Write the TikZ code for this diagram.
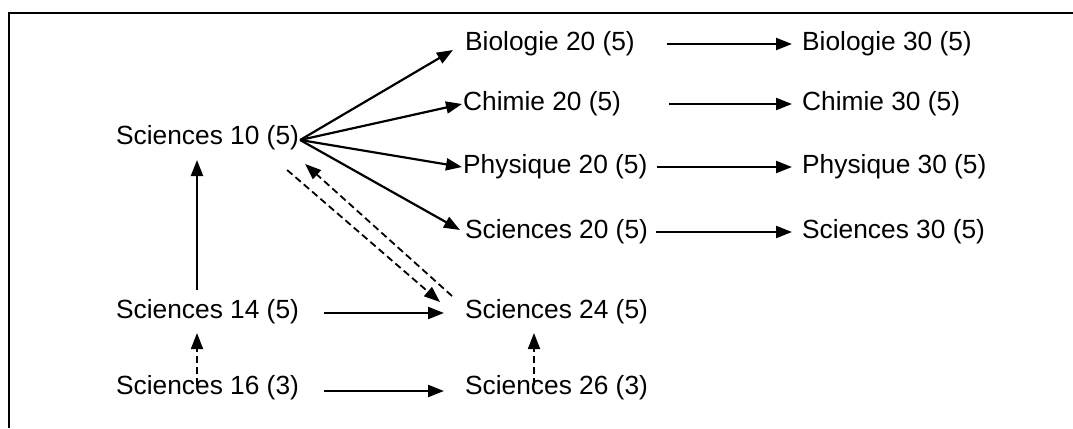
\documentclass[tikz,border=0pt]{standalone}
\usepackage{fontspec}
\setmainfont{Liberation Sans}
\usetikzlibrary{arrows.meta,calc}
\begin{document}
\begin{tikzpicture}[x=1bp,y=-1bp,
  lbl/.style={anchor=west,inner sep=0pt,font=\fontsize{26.3bp}{30bp}\selectfont},
  arr/.style={line width=2.2bp,-{Triangle[length=16bp,width=12bp]}},
  darr/.style={line width=1.8bp,dash pattern=on 7bp off 4bp,-{Triangle[length=16bp,width=12bp]}}]
\useasboundingbox (0,0) rectangle (1073,428);
\draw[line width=2.2bp] (9,428) -- (9,13) -- (1073,13);
\node[lbl] (s10) at (116,138) {Sciences 10 (5)};
\node[lbl] (b20) at (465,44) {Biologie 20 (5)};
\node[lbl] (b30) at (802,44) {Biologie 30 (5)};
\node[lbl] (c20) at (463,104) {Chimie 20 (5)};
\node[lbl] (c30) at (802,104) {Chimie 30 (5)};
\node[lbl] (p20) at (463,167) {Physique 20 (5)};
\node[lbl] (p30) at (802,167) {Physique 30 (5)};
\node[lbl] (s20) at (465,232) {Sciences 20 (5)};
\node[lbl] (s30) at (802,232) {Sciences 30 (5)};
\node[lbl] (s14) at (116,312) {Sciences 14 (5)};
\node[lbl] (s24) at (465,312) {Sciences 24 (5)};
\node[lbl] (s16) at (116,388) {Sciences 16 (3)};
\node[lbl] (s26) at (465,388) {Sciences 26 (3)};
% from Sciences 10
\draw[arr] ($(s10.east)+(1,2)$) -- ($(b20.west)+(-12,6)$);
\draw[arr] ($(s10.east)+(1,2)$) -- ($(c20.west)+(-1,0)$);
\draw[arr] ($(s10.east)+(1,2)$) -- ($(p20.west)+(-1,0)$);
\draw[arr] ($(s10.east)+(1,2)$) -- ($(s20.west)+(-5,-2)$);
% 20 -> 30
\draw[arr] ($(b20.east)+(32,0)$) -- ($(b30.west)+(-10,0)$);
\draw[arr] ($(c20.east)+(48,0)$) -- ($(c30.west)+(-10,0)$);
\draw[arr] ($(p20.east)+(9,0)$) -- ($(p30.west)+(-10,0)$);
\draw[arr] ($(s20.east)+(8,0)$) -- ($(s30.west)+(-10,0)$);
% lower part
\draw[arr] ($(s14.west)+(81,-22)$) -- ($(s10.west)+(81,22)$);
\draw[arr] ($(s14.east)+(25,1)$) -- ($(s24.west)+(-21,1)$);
\draw[arr] ($(s16.east)+(25,3)$) -- ($(s26.west)+(-21,3)$);
\draw[darr] ($(s16.west)+(81,-3)$) -- ($(s14.west)+(81,21)$);
\draw[darr] ($(s26.west)+(69,-3)$) -- ($(s24.west)+(69,21)$);
% dashed diagonals
\draw[darr] ($(s10.east)+(-12,32)$) -- ($(s24.west)+(-25,-10)$);
\draw[darr] ($(s24.west)+(-13,-16)$) -- ($(s10.east)+(6,26)$);
\end{tikzpicture}
\end{document}
